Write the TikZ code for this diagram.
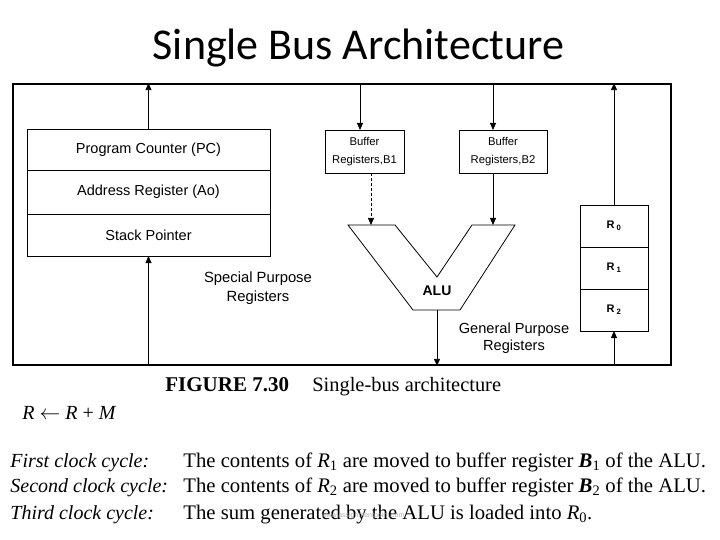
\documentclass[tikz,border=0pt]{standalone}
\usepackage{fontspec}
\setmainfont{Liberation Serif}
\setsansfont{Liberation Sans}
\newfontfamily\titlefont{Carlito}
\usetikzlibrary{positioning,arrows.meta}

\begin{document}
\begin{tikzpicture}[
				x=1pt,y=-1pt,
				>={Triangle[length=7pt,width=6pt]},
				line width=0.8pt,
				reg/.style={draw,outer sep=0pt,inner sep=0pt,align=center,font=\sffamily\fontsize{14.5}{16}\selectfont},
				buf/.style={reg,minimum height=43pt,font=\sffamily\fontsize{11.3}{18}\selectfont},
				gpr/.style={reg,minimum width=68pt,minimum height=42pt,font=\sffamily\bfseries\fontsize{11}{13}\selectfont},
				note/.style={align=center,font=\sffamily\fontsize{14.8}{19}\selectfont},
				txt/.style={anchor=base west,inner sep=0pt,font=\fontsize{20}{22}\selectfont}
			]
			
			\useasboundingbox (0,0) rectangle (720,540);
			
			\node [font=\titlefont\fontsize{44}{48}\selectfont] (title) at (358.5,48) {Single Bus Architecture};
			
			\node [draw,line width=1.8pt,inner sep=0pt,minimum width=658pt,minimum height=281pt] (bus) at (342,224.5) {};
			
			\node [reg,minimum width=243pt,minimum height=41pt] (pc) at (148.5,149.5) {Program Counter (PC)};
			\node [reg,minimum width=243pt,minimum height=44pt,below=0pt of pc] (ar) {Address Register (Ao)};
			\node [reg,minimum width=243pt,minimum height=42pt,below=0pt of ar] (sp) {Stack Pointer};
			\node [note] (spr) at (258,288.5) {Special Purpose\\Registers};
			
			\node [buf,minimum width=79pt] (b1) at (364.5,151.5) {Buffer\\Registers,B1};
			\node [buf,minimum width=88pt] (b2) at (503,151.5) {Buffer\\Registers,B2};
			
			\coordinate (in1) at (371,225);
			\coordinate (in2) at (493,225);
			\coordinate (out) at (437,310);
			\draw (348,225) -- (395,225) -- (437,277) -- (472,225) -- (515,225) -- (460,310) -- (413,310) -- cycle;
			\node [font=\sffamily\bfseries\fontsize{14}{16}\selectfont] (alu) at (437,291) {ALU};
			
			\node [gpr] (r0) at (614,226) {R\,\textsubscript{0}};
			\node [gpr,below=0pt of r0] (r1) {R\,\textsubscript{1}};
			\node [gpr,below=0pt of r1] (r2) {R\,\textsubscript{2}};
			\node [note,font=\sffamily\fontsize{14.6}{17}\selectfont] (gpn) at (514,338.5) {General Purpose\\Registers};
			
			\draw [->] (pc.north) -- (pc.north |- bus.north);
			\draw [->] (sp.south |- bus.south) -- (sp.south);
			\draw [->] ([xshift=-4.5pt]b1.north |- bus.north) -- ([xshift=-4.5pt]b1.north);
			\draw [->] ([xshift=-10pt]b2.north |- bus.north) -- ([xshift=-10pt]b2.north);
			\draw [->,densely dashed,line width=0.6pt] (in1 |- b1.south) -- (in1);
			\draw [->] (in2 |- b2.south) -- (in2);
			\draw [->] (out) -- (out |- bus.south);
			\draw [->] (r0.north) -- (r0.north |- bus.north);
			\draw [->] (r2.south |- bus.south) -- (r2.south);
			
			\node [txt,font=\fontsize{21}{23}\selectfont] (fig) at (165,391) {\textbf{FIGURE 7.30}};
			\node [txt,font=\fontsize{20.4}{22}\selectfont] (figcap) at (312,391) {Single-bus architecture};
			\node [txt] (eq) at (22,419) {\textit{R} $\leftarrow$ \textit{R} + \textit{M}};
			
			\node [txt] (c1) at (10,467) {\textit{First clock cycle:}};
			\node [txt] (c2) at (10,492) {\textit{Second clock cycle:}};
			\node [txt] (c3) at (10,519) {\textit{Third clock cycle:}};
			\node [txt,font=\fontsize{20.7}{22}\selectfont] (t1) at (183,467) {The contents of \textit{R}\textsubscript{1} are moved to buffer register \textbf{\textit{B}}\textsubscript{1} of the ALU.};
			\node [txt,font=\fontsize{20.7}{22}\selectfont] (t2) at (183,492) {The contents of \textit{R}\textsubscript{2} are moved to buffer register \textbf{\textit{B}}\textsubscript{2} of the ALU.};
			\node [txt,font=\fontsize{20.7}{22}\selectfont] (t3) at (183,519) {The sum generated by the ALU is loaded into \textit{R}\textsubscript{0}.};
			\node [font=\sffamily\fontsize{7}{8}\selectfont,text=gray!60] (mark) at (363,516) {www.assignmentpoint.com};
		\end{tikzpicture}
\end{document}
